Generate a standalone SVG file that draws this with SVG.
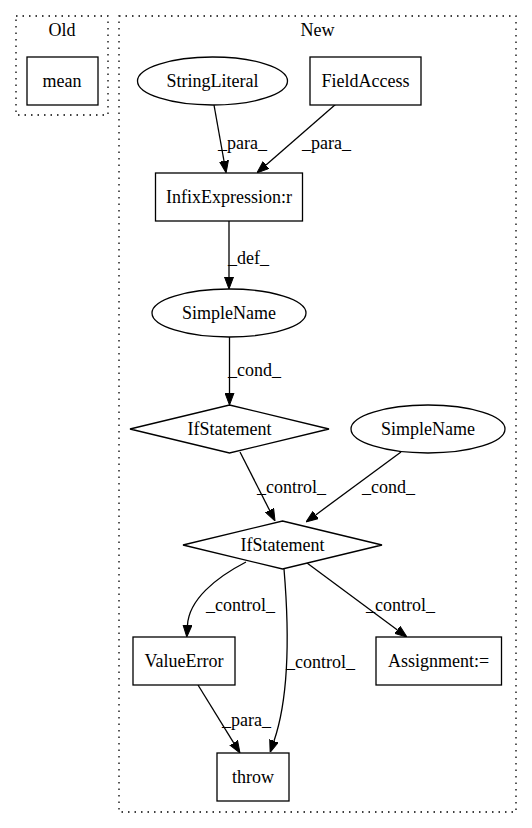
<svg xmlns="http://www.w3.org/2000/svg" width="532" height="828" viewBox="0 0 532 828">
<style>
text{font-family:"Liberation Serif","Times New Roman",serif;font-size:18px;fill:#000}
.n{text-anchor:middle}
.shape{fill:#fff;stroke:#000;stroke-width:1.3}
.cl{fill:none;stroke:#000;stroke-width:1.3;stroke-dasharray:1.5,5}
.e{fill:none;stroke:#000;stroke-width:1.3;marker-end:url(#ah)}
</style>
<defs>
<marker id="ah" viewBox="0 -5 12 10" refX="0" refY="0" markerWidth="12" markerHeight="10" markerUnits="userSpaceOnUse" orient="auto">
<path d="M0,-4.5 L12,0 L0,4.5 z" fill="#000" stroke="#000" stroke-width="1"/>
</marker>
</defs>
<rect width="532" height="828" fill="#fff"/>
<g id="cluster_old">
<rect class="cl" x="16" y="16" width="92" height="99"/>
<text class="n" x="62" y="36">Old</text>
</g>
<g id="cluster_new">
<rect class="cl" x="119" y="16" width="397" height="796"/>
<text class="n" x="317.5" y="36">New</text>
</g>
<g id="connectors">
<path class="e" d="M214,105 L224,161"/>
<text x="218" y="149">_para_</text>
<path class="e" d="M336,104 L266,165"/>
<text x="302" y="149">_para_</text>
<path class="e" d="M229,221 L229,277"/>
<text x="228" y="264">_def_</text>
<path class="e" d="M229.5,337 L229.5,393"/>
<text x="228" y="376">_cond_</text>
<path class="e" d="M240,452 L269.6,510.3"/>
<text x="257" y="493">_control_</text>
<path class="e" d="M401,452 L315.7,514.9"/>
<text x="362" y="493">_cond_</text>
<path class="e" d="M246,562 C215,578 189,600 187.5,625"/>
<text x="206" y="611">_control_</text>
<path class="e" d="M284,569 C290,640 288,700 274,741"/>
<text x="286" y="668">_control_</text>
<path class="e" d="M307,563 L397.4,629.9"/>
<text x="366" y="611">_control_</text>
<path class="e" d="M198,685 L233.7,742.8"/>
<text x="222" y="726">_para_</text>
</g>
<g id="mean">
<rect class="shape" x="27" y="57" width="71" height="48"/>
<text class="n" x="62" y="87">mean</text>
</g>
<g id="StringLiteral">
<ellipse class="shape" cx="212.5" cy="81" rx="75" ry="24"/>
<text class="n" x="212.5" y="87">StringLiteral</text>
</g>
<g id="FieldAccess">
<rect class="shape" x="310" y="57" width="111" height="48"/>
<text class="n" x="365.5" y="87">FieldAccess</text>
</g>
<g id="InfixExpression">
<rect class="shape" x="155.5" y="173" width="147" height="48"/>
<text class="n" x="229" y="203">InfixExpression:r</text>
</g>
<g id="SimpleName1">
<ellipse class="shape" cx="229" cy="313" rx="77" ry="24"/>
<text class="n" x="229" y="319">SimpleName</text>
</g>
<g id="IfStatement1">
<polygon class="shape" points="229.5,405 329,429 229.5,453 130,429"/>
<text class="n" x="229.5" y="435">IfStatement</text>
</g>
<g id="SimpleName2">
<ellipse class="shape" cx="428" cy="429" rx="77" ry="24"/>
<text class="n" x="428" y="435">SimpleName</text>
</g>
<g id="IfStatement2">
<polygon class="shape" points="282.5,521 382,545 282.5,569 183,545"/>
<text class="n" x="282.5" y="551">IfStatement</text>
</g>
<g id="ValueError">
<rect class="shape" x="133" y="637" width="102" height="48"/>
<text class="n" x="184" y="667">ValueError</text>
</g>
<g id="Assignment">
<rect class="shape" x="376" y="637" width="125.5" height="48"/>
<text class="n" x="438.5" y="667">Assignment:=</text>
</g>
<g id="throw">
<rect class="shape" x="217" y="753" width="72" height="48"/>
<text class="n" x="253" y="783">throw</text>
</g>
</svg>
